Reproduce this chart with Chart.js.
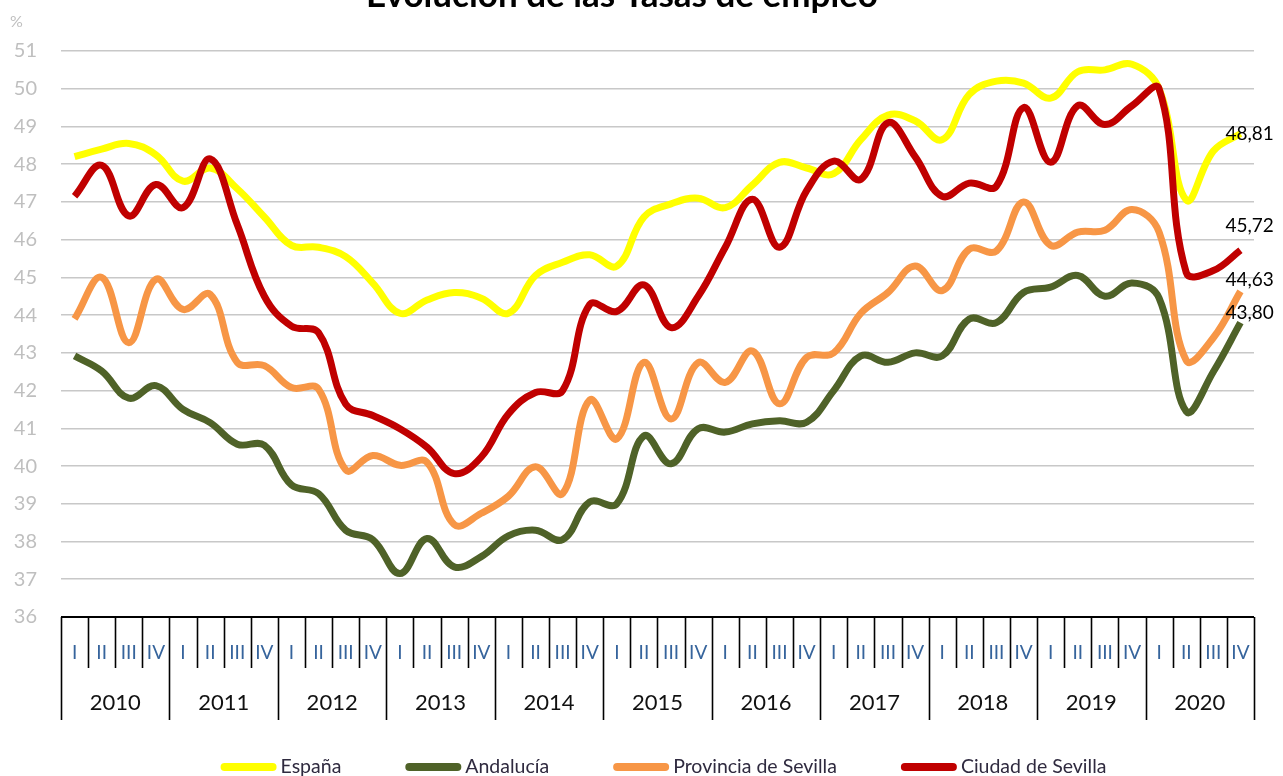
<!DOCTYPE html>
<html lang="es">
<head>
  <meta charset="UTF-8">
  <title>Evolución de las Tasas de empleo</title>
  <script src="https://cdn.jsdelivr.net/npm/chart.js@4.4.3/dist/chart.umd.min.js"></script>
  <style>
    body { margin: 0; background: #fff; }
    #wrap { position: relative; width: 1283px; height: 776px; }
  </style>
</head>
<body>
  <div id="wrap"><canvas id="chart"></canvas></div>

  <script>
    // --- data ---
    const years = ['2010', '2011', '2012', '2013', '2014', '2015', '2016', '2017', '2018', '2019', '2020'];
    const quarters = ['I', 'II', 'III', 'IV'];
    const yTicks = [36, 37, 38, 39, 40, 41, 42, 43, 44, 45, 46, 47, 48, 49, 50, 51];

    const espana = [48.2, 48.4, 48.55, 48.25, 47.55, 47.9, 47.35, 46.6, 45.85, 45.8, 45.55, 44.85,
      44.05, 44.4, 44.6, 44.45, 44.05, 45.05, 45.4, 45.6, 45.3, 46.6, 46.95, 47.1,
      46.85, 47.45, 48.05, 47.9, 47.75, 48.65, 49.3, 49.15, 48.65, 49.85, 50.2, 50.15,
      49.75, 50.45, 50.5, 50.65, 50.0, 47.05, 48.35, 48.81];
    const andalucia = [42.92, 42.52, 41.8, 42.13, 41.5, 41.15, 40.58, 40.55, 39.5, 39.27, 38.3, 38.05,
      37.15, 38.08, 37.33, 37.6, 38.15, 38.3, 38.05, 39.05, 39.0, 40.8, 40.06, 40.99,
      40.9, 41.12, 41.2, 41.16, 42.0, 42.92, 42.75, 43.0, 42.92, 43.9, 43.8, 44.6,
      44.74, 45.05, 44.5, 44.85, 44.45, 41.45, 42.5, 43.80];
    const provincia = [43.9, 45.0, 43.27, 44.95, 44.15, 44.55, 42.75, 42.66, 42.08, 42.04, 39.9, 40.28,
      40.02, 40.1, 38.45, 38.75, 39.2, 39.98, 39.27, 41.75, 40.72, 42.75, 41.25, 42.74,
      42.22, 43.05, 41.65, 42.88, 43.0, 44.05, 44.6, 45.3, 44.65, 45.75, 45.7, 47.0,
      45.85, 46.2, 46.25, 46.8, 46.2, 42.8, 43.4, 44.63];
    const ciudad = [47.15, 47.97, 46.63, 47.46, 46.85, 48.14, 46.4, 44.5, 43.71, 43.53, 41.64, 41.34,
      40.99, 40.5, 39.8, 40.24, 41.38, 41.95, 42.0, 44.28, 44.1, 44.8, 43.67, 44.5,
      45.8, 47.07, 45.8, 47.3, 48.08, 47.6, 49.1, 48.2, 47.15, 47.5, 47.42, 49.5,
      48.05, 49.55, 49.05, 49.55, 50.0, 45.13, 45.18, 45.72];

    const seriesNames = ['España', 'Andalucía', 'Provincia de Sevilla', 'Ciudad de Sevilla'];
    const seriesColors = ['#ffff00', '#4f6228', '#f79646', '#c00000'];
    // vertical nudge of the end-value label, per series
    const labelShift = [0, -10, -11, -24];

    const FONT = 'Lato, "Open Sans", sans-serif';

    const labels = [];
    years.forEach(y => quarters.forEach(q => labels.push(q)));

    // title, % sign, two-level category axis, end labels, legend
    const decor = {
      id: 'decor',
      afterDraw(chart) {
        const ctx = chart.ctx;
        const area = chart.chartArea;
        const xs = chart.scales.x;
        const n = labels.length;
        const step = xs.getPixelForValue(1) - xs.getPixelForValue(0);
        ctx.save();

        // title (cut off at the top like the original)
        ctx.fillStyle = '#000';
        ctx.font = 'bold 35px ' + FONT;
        ctx.textAlign = 'center';
        ctx.textBaseline = 'alphabetic';
        ctx.fillText('Evolución de las Tasas de empleo', 622, 7);

        // % unit
        ctx.fillStyle = '#bfbfbf';
        ctx.font = '16px ' + FONT;
        ctx.textAlign = 'left';
        ctx.textBaseline = 'middle';
        ctx.fillText('%', 10, 22);

        // category axis box
        const top = area.bottom;
        ctx.strokeStyle = '#000';
        ctx.lineWidth = 2;
        ctx.beginPath();
        ctx.moveTo(area.left, top);
        ctx.lineTo(area.right, top);
        ctx.stroke();
        ctx.lineWidth = 1.6;
        for (let k = 0; k <= n; k++) {
          const x = Math.round(xs.getPixelForValue(0) - step / 2 + k * step) + 0.5;
          ctx.beginPath();
          ctx.moveTo(x, top);
          ctx.lineTo(x, k % 4 === 0 ? top + 103 : top + 51);
          ctx.stroke();
        }
        ctx.textAlign = 'center';
        ctx.textBaseline = 'middle';
        ctx.font = '19px ' + FONT;
        ctx.fillStyle = '#36649c';
        for (let i = 0; i < n; i++) {
          ctx.fillText(labels[i], xs.getPixelForValue(i), top + 36);
        }
        ctx.font = '22px ' + FONT;
        ctx.fillStyle = '#111';
        years.forEach((y, j) => {
          const xc = (xs.getPixelForValue(j * 4) + xs.getPixelForValue(j * 4 + 3)) / 2;
          ctx.fillText(y, xc, top + 86);
        });

        // end-of-series value labels
        ctx.font = '19px ' + FONT;
        ctx.fillStyle = '#000';
        ctx.textAlign = 'left';
        chart.data.datasets.forEach((ds, i) => {
          const meta = chart.getDatasetMeta(i);
          const pt = meta.data[meta.data.length - 1];
          const v = ds.data[ds.data.length - 1];
          ctx.fillText(v.toFixed(2).replace('.', ','), pt.x - 15, pt.y + labelShift[i]);
        });

        // legend
        ctx.font = '19.5px ' + FONT;
        const markLen = 56, gapText = 4, gapItem = 64;
        const widths = seriesNames.map(s => markLen + gapText + ctx.measureText(s).width);
        const total = widths.reduce((a, b) => a + b, 0) + gapItem * (widths.length - 1);
        let x = (area.left + area.right) / 2 - total / 2 + 6;
        const ly = 767;
        ctx.lineCap = 'round';
        seriesNames.forEach((s, i) => {
          ctx.strokeStyle = seriesColors[i];
          ctx.lineWidth = 8;
          ctx.beginPath();
          ctx.moveTo(x + 4, ly);
          ctx.lineTo(x + markLen - 4, ly);
          ctx.stroke();
          ctx.fillStyle = '#2f2a3f';
          ctx.fillText(s, x + markLen + gapText, ly);
          x += widths[i] + gapItem;
        });
        ctx.restore();
      }
    };

    const series = [espana, andalucia, provincia, ciudad];
    const datasets = series.map((d, i) => ({
      label: seriesNames[i],
      data: d,
      borderColor: seriesColors[i],
      backgroundColor: seriesColors[i],
      borderWidth: 7,
      pointRadius: 0,
      tension: 0.4,
      fill: false,
      order: 4 - i
    }));

    new Chart(document.getElementById('chart'), {
      type: 'line',
      data: { labels: labels, datasets: datasets },
      options: {
        responsive: true,
        maintainAspectRatio: false,
        animation: false,
        layout: { padding: { top: 51, right: 29, bottom: 159, left: 0 } },
        plugins: {
          legend: { display: false },
          title: { display: false },
          tooltip: { enabled: false }
        },
        scales: {
          x: {
            type: 'category',
            display: false,
            offset: true
          },
          y: {
            min: yTicks[0],
            max: yTicks[yTicks.length - 1],
            afterFit(s) { s.width = 61; },
            afterBuildTicks(s) { s.ticks = yTicks.map(v => ({ value: v })); },
            border: { display: false },
            grid: {
              drawTicks: false,
              lineWidth: 1.6,
              color: c => c.tick.value === yTicks[0] ? 'rgba(0,0,0,0)' : '#c8c8c8'
            },
            ticks: {
              padding: 24,
              color: '#bfbfbf',
              font: { family: FONT, size: 20 }
            }
          }
        }
      },
      plugins: [decor]
    });
  </script>
</body>
</html>
